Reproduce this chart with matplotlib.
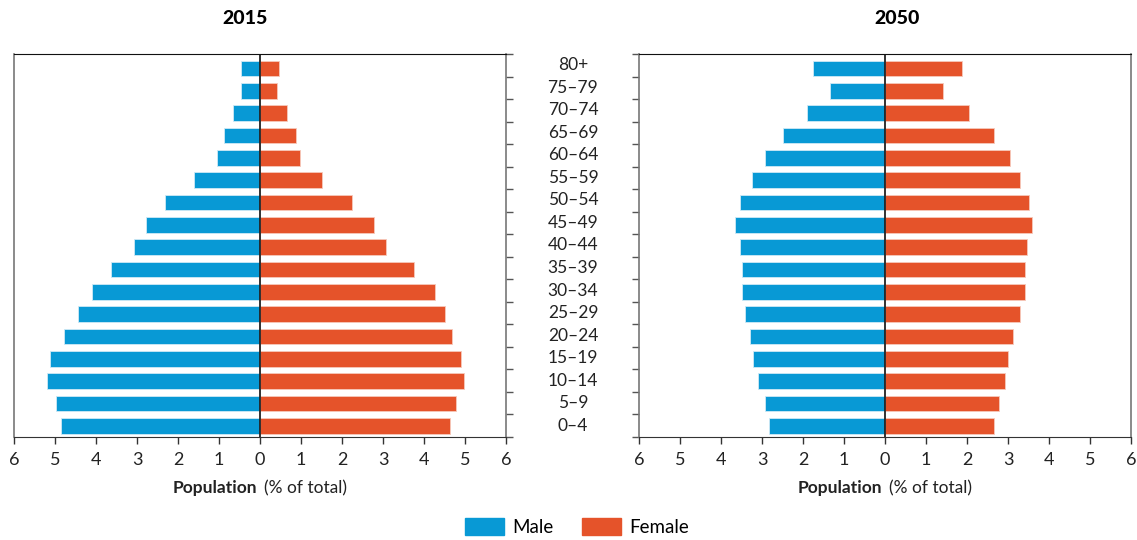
import numpy as np
import matplotlib.pyplot as plt
from matplotlib.transforms import blended_transform_factory
from matplotlib.patches import Patch

plt.rcParams['font.family'] = ['Lato', 'DejaVu Sans']

# Age groups, bottom to top
age_groups = ['0–4', '5–9', '10–14', '15–19', '20–24', '25–29', '30–34', '35–39',
              '40–44', '45–49', '50–54', '55–59', '60–64', '65–69', '70–74', '75–79', '80+']

# Population share (% of total), bottom to top
male_2015 = [4.85, 4.98, 5.20, 5.11, 4.77, 4.44, 4.10, 3.63, 3.08, 2.79, 2.32, 1.60, 1.06, 0.89, 0.67, 0.46, 0.46]
female_2015 = [4.64, 4.77, 4.98, 4.90, 4.68, 4.51, 4.27, 3.76, 3.08, 2.79, 2.24, 1.52, 0.98, 0.89, 0.67, 0.42, 0.46]
male_2050 = [2.84, 2.92, 3.09, 3.21, 3.29, 3.42, 3.50, 3.50, 3.54, 3.67, 3.54, 3.25, 2.92, 2.50, 1.91, 1.33, 1.75]
female_2050 = [2.67, 2.79, 2.92, 2.99, 3.12, 3.29, 3.41, 3.41, 3.46, 3.59, 3.50, 3.29, 3.04, 2.67, 2.04, 1.41, 1.88]

years = ['2015', '2050']
x_ticks = [-6, -5, -4, -3, -2, -1, 0, 1, 2, 3, 4, 5, 6]

male_color = '#0899D5'
female_color = '#E5532A'

W, H = 1137, 540
fig = plt.figure(figsize=(W / 100, H / 100), dpi=100)
ax1 = fig.add_axes([14 / W, 1 - 437 / H, 492 / W, 383 / H])
ax2 = fig.add_axes([639 / W, 1 - 437 / H, 492 / W, 383 / H])

n = len(age_groups)
y = np.arange(n)
ylim = (-0.5, n - 0.35)
# tick marks split the axis into equal slots, one per age group
slot_edges = np.linspace(ylim[0], ylim[1], n + 1)
slot_mids = (slot_edges[:-1] + slot_edges[1:]) / 2

data = [(ax1, male_2015, female_2015, 'right'), (ax2, male_2050, female_2050, 'left')]

for ax, male, female, inner in data:
    ax.barh(y, -np.array(male), height=0.7, color=male_color, edgecolor='#cfe9f6', linewidth=0.6)
    ax.barh(y, female, height=0.7, color=female_color, edgecolor='#f6c9bb', linewidth=0.6)
    ax.axvline(0, color='#222222', linewidth=1.3)
    ax.set_xlim(-6, 6)
    ax.set_ylim(*ylim)
    ax.set_xticks(x_ticks)
    ax.set_xticklabels([str(abs(v)) for v in x_ticks], fontsize=13, color='#222222')
    ax.tick_params(axis='x', length=5, width=1, pad=6, color='#333333')
    ax.set_yticks(slot_edges)
    ax.set_yticklabels([])
    if inner == 'right':
        ax.yaxis.tick_right()
    else:
        ax.yaxis.tick_left()
    ax.tick_params(axis='y', length=5, width=1, color='#555555')
    for side in ['left', 'right']:
        ax.spines[side].set_color('#777777')
        ax.spines[side].set_linewidth(1.2)
    ax.spines['top'].set_color('#111111')
    ax.spines['bottom'].set_color('#333333')

    ax.annotate('Population', xy=(0, 0), xycoords=('data', 'axes fraction'),
                xytext=(-2, -37), textcoords='offset points', ha='right', va='center',
                fontsize=12.5, fontweight='bold', color='#222222')
    ax.annotate('(% of total)', xy=(0, 0), xycoords=('data', 'axes fraction'),
                xytext=(3, -37), textcoords='offset points', ha='left', va='center',
                fontsize=12.5, color='#222222')

# Age labels in the middle
trans = blended_transform_factory(fig.transFigure, ax1.transData)
for ym, label in zip(slot_mids, age_groups):
    fig.text(573 / W, ym, label, transform=trans, ha='center', va='center',
             fontsize=12.5, color='#222222')

fig.text(245 / W, 1 - 18 / H, years[0], ha='center', va='center', fontsize=14, fontweight='black')
fig.text(897 / W, 1 - 18 / H, years[1], ha='center', va='center', fontsize=14, fontweight='black')

handles = [Patch(color=male_color, label='Male'), Patch(color=female_color, label='Female')]
fig.legend(handles=handles, loc='center', bbox_to_anchor=(577 / W, 1 - 527 / H), ncol=2,
           frameon=False, fontsize=13.5, handlelength=2.1, handleheight=1.0,
           handletextpad=0.45, columnspacing=1.5)

fig.savefig('out.png', dpi=100)
